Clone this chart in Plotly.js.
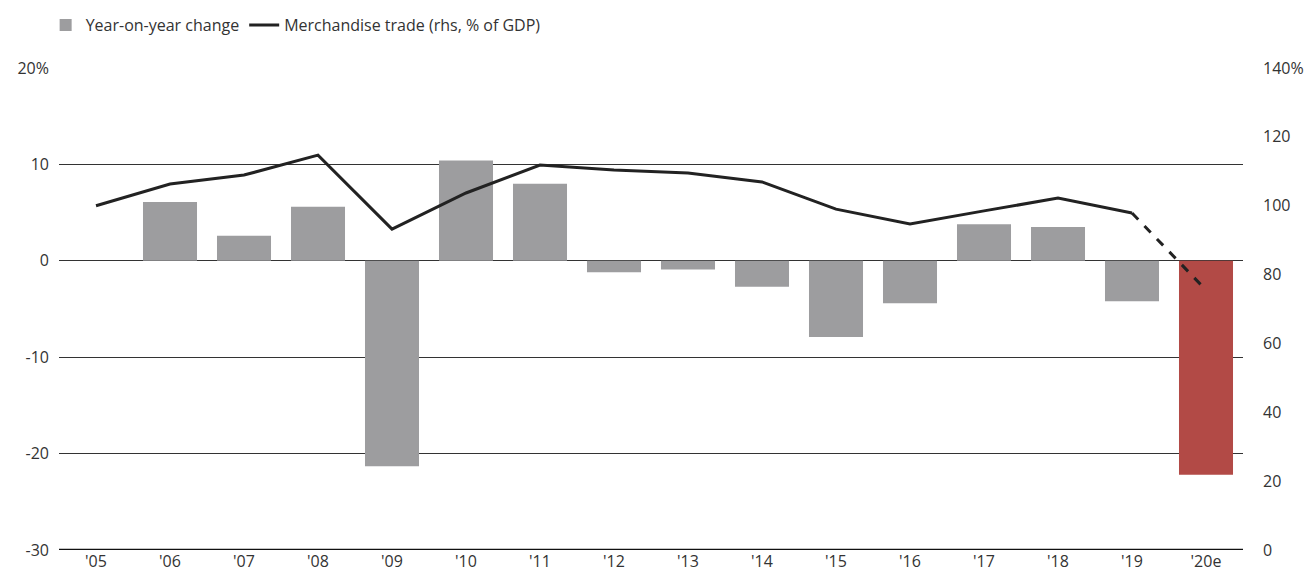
<!DOCTYPE html>
<html>
<head>
<meta charset="utf-8">
<script src="https://cdn.plot.ly/plotly-3.0.1.min.js"></script>
<style>html,body{margin:0;padding:0;background:#fff;}#chart{width:1304px;height:581px;}</style>
</head>
<body>
<div id="chart"></div>
<script>
const years = ["'05","'06","'07","'08","'09","'10","'11","'12","'13","'14","'15","'16","'17","'18","'19","'20e"];
const yoyChange = [null, 6.1, 2.6, 5.6, -21.3, 10.4, 8.0, -1.2, -0.9, -2.7, -7.9, -4.4, 3.8, 3.5, -4.2, -22.2];
const tradePctGDP = [100.0, 106.3, 108.9, 114.7, 93.2, 103.7, 111.8, 110.4, 109.5, 106.9, 99.0, 94.7, 98.5, 102.2, 97.9, 75.5];
const leftTicks = [-30, -20, -10, 0, 10, 20];
const leftTickText = ["-30", "-20", "-10", "0", "10", "20%"];
const rightTicks = [0, 20, 40, 60, 80, 100, 120, 140];
const rightTickText = ["0", "20", "40", "60", "80", "100", "120", "140%"];

const barColors = years.map((y, i) => i === years.length - 1 ? '#b24a46' : '#9d9d9f');
const nSolid = years.length - 1;

const traces = [
  {
    type: 'bar', x: years, y: yoyChange, name: 'Year-on-year change',
    marker: {color: barColors}, width: 0.73, yaxis: 'y'
  },
  {
    type: 'scatter', mode: 'lines', x: years.slice(0, nSolid), y: tradePctGDP.slice(0, nSolid),
    name: 'Merchandise trade (rhs, % of GDP)', yaxis: 'y2',
    line: {color: '#222222', width: 3}
  },
  {
    type: 'scatter', mode: 'lines', x: years.slice(nSolid - 1), y: tradePctGDP.slice(nSolid - 1),
    name: 'Merchandise trade forecast', yaxis: 'y2', showlegend: false,
    line: {color: '#222222', width: 3, dash: 'dash'}
  }
];

const font = {family: '"Open Sans", sans-serif', size: 16, color: '#333333'};

const layout = {
  width: 1304, height: 581,
  margin: {l: 59, r: 61, t: 68, b: 31, pad: 0, autoexpand: false},
  paper_bgcolor: '#ffffff', plot_bgcolor: '#ffffff',
  font: font,
  showlegend: true,
  legend: {orientation: 'h', xref: 'container', yref: 'container', x: 0.035, xanchor: 'left',
           y: 0.957, yanchor: 'middle',
           font: font, traceorder: 'normal', bgcolor: 'rgba(0,0,0,0)'},
  xaxis: {
    type: 'category', range: [-0.5, 15.5], showgrid: false, zeroline: false,
    showline: false, ticks: '', tickfont: font, fixedrange: true
  },
  yaxis: {
    range: [-30, 20], tickvals: leftTicks, ticktext: leftTickText,
    showgrid: true, gridcolor: '#333333', gridwidth: 1,
    zeroline: true, zerolinecolor: '#333333', zerolinewidth: 1,
    showline: false, ticks: '', ticklabelstandoff: 9, tickfont: font, fixedrange: true
  },
  yaxis2: {
    range: [0, 140], tickvals: rightTicks, ticktext: rightTickText,
    overlaying: 'y', side: 'right', showgrid: false, zeroline: false,
    showline: false, ticks: '', ticklabelstandoff: 19, tickfont: font, fixedrange: true
  },
  shapes: [
    {type: 'line', xref: 'paper', yref: 'y', x0: 0, x1: 1, y0: -30, y1: -30,
     line: {color: '#111111', width: 2.5}, layer: 'above'}
  ]
};

Plotly.newPlot('chart', traces, layout, {displayModeBar: false, staticPlot: true});
</script>
</body>
</html>
